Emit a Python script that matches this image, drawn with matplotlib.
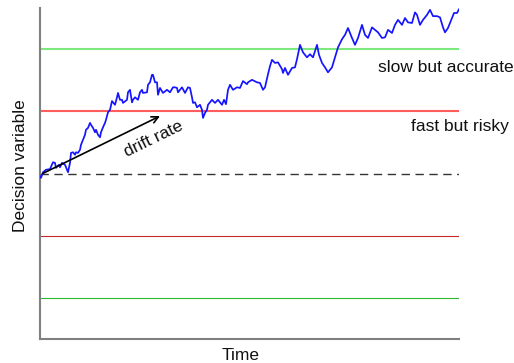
import matplotlib
matplotlib.use("Agg")
import matplotlib.pyplot as plt

plt.rcParams['font.family'] = ['Liberation Sans', 'DejaVu Sans']

# Sampled accumulator trajectory (time steps, decision variable)
time = [
    0, 1, 3, 6, 10, 13, 15, 16, 19, 20,
    22, 25, 26, 28, 30, 31, 33, 35, 36, 38,
    40, 41, 43, 45, 46, 48, 50, 51, 53, 55,
    56, 58, 60, 61, 63, 65, 66, 68, 70, 72,
    75, 77, 78, 80, 82, 83, 87, 88, 90, 92,
    93, 95, 98, 100, 102, 103, 107, 108, 110, 112,
    113, 115, 117, 118, 120, 123, 127, 130, 133, 135,
    137, 138, 142, 145, 148, 150, 152, 153, 155, 157,
    160, 162, 163, 165, 167, 168, 172, 175, 178, 182,
    184, 186, 188, 190, 193, 197, 200, 203, 207, 208,
    212, 217, 220, 223, 225, 228, 230, 232, 235, 238,
    242, 243, 245, 248, 252, 255, 257, 260, 263, 267,
    270, 273, 277, 279, 282, 285, 288, 292, 295, 298,
    302, 305, 308, 312, 315, 318, 322, 325, 328, 332,
    335, 338, 342, 345, 348, 352, 355, 358, 362, 365,
    368, 372, 375, 377, 380, 383, 387, 390, 393, 397,
    400, 403, 405, 408, 412, 414, 417, 419,
]
decision = [
    -0.04, -0.07, 0.02, 0.06, 0.07, 0.18, 0.17, 0.09, 0.14, 0.10,
    0.17, 0.14, 0.10, 0.02, 0.17, 0.33, 0.34, 0.30, 0.34, 0.33,
    0.38, 0.46, 0.54, 0.62, 0.70, 0.73, 0.81, 0.78, 0.73, 0.66,
    0.70, 0.62, 0.58, 0.66, 0.74, 0.81, 0.86, 0.98, 1.02, 1.16,
    1.10, 1.22, 1.29, 1.18, 1.18, 1.13, 1.18, 1.30, 1.34, 1.14,
    1.18, 1.22, 1.18, 1.30, 1.34, 1.29, 1.30, 1.42, 1.46, 1.58,
    1.58, 1.46, 1.46, 1.26, 1.37, 1.29, 1.34, 1.30, 1.38, 1.38,
    1.37, 1.30, 1.38, 1.29, 1.38, 1.37, 1.22, 1.13, 1.14, 1.06,
    1.10, 1.02, 0.89, 0.97, 1.02, 1.10, 1.18, 1.13, 1.18, 1.10,
    1.18, 1.11, 1.34, 1.42, 1.34, 1.38, 1.37, 1.48, 1.43, 1.46,
    1.50, 1.46, 1.45, 1.34, 1.38, 1.59, 1.72, 1.82, 1.77, 1.78,
    1.67, 1.61, 1.69, 1.58, 1.69, 1.70, 1.83, 2.06, 1.94, 1.86,
    1.91, 1.86, 2.06, 1.90, 1.77, 1.70, 1.62, 1.70, 1.86, 2.02,
    2.15, 2.22, 2.33, 2.17, 2.06, 2.17, 2.38, 2.22, 2.17, 2.34,
    2.30, 2.26, 2.17, 2.18, 2.30, 2.25, 2.38, 2.46, 2.38, 2.49,
    2.42, 2.41, 2.58, 2.54, 2.38, 2.46, 2.54, 2.62, 2.52, 2.52,
    2.50, 2.34, 2.26, 2.33, 2.49, 2.57, 2.57, 2.63,
]

# Decision thresholds
fast_bound = 1.0
slow_bound = 2.0
start_point = 0.0
t_max = 419
y_lim = 2.65

fig = plt.figure(figsize=(5.14, 3.63), dpi=100)
ax = fig.add_axes([40 / 514, 24 / 363, 419 / 514, 331 / 363])

ax.axhline(slow_bound, color='#7de87d', lw=1.5, zorder=1)
ax.axhline(fast_bound, color='#ff5c5c', lw=1.5, zorder=1)
ax.axhline(start_point, color='#333333', lw=1.0, ls=(0, (6, 4)), zorder=1)
ax.axhline(-fast_bound, color='#c42a2a', lw=0.8, zorder=1)
ax.axhline(-slow_bound, color='#2eb82e', lw=0.8, zorder=1)

ax.plot(time, decision, color='#1515ff', lw=1.25, zorder=3)

ax.annotate('', xy=(120, 0.92), xytext=(2.7, 0.0),
            arrowprops=dict(arrowstyle='->', color='black', lw=1.2,
                            shrinkA=0, shrinkB=0, mutation_scale=12),
            zorder=4)
ax.text(113.7, 0.56, 'drift rate', rotation=26, ha='center', va='center',
        fontsize=12.5, color='#111111')

ax.text(338, 1.625, 'slow but accurate', ha='left', va='baseline',
        fontsize=12.5, color='#111111', clip_on=False)
ax.text(370.7, 0.68, 'fast but risky', ha='left', va='baseline',
        fontsize=12.5, color='#111111', clip_on=False)

ax.set_xlim(0, t_max)
ax.set_ylim(-y_lim, y_lim)
ax.set_xticks([])
ax.set_yticks([])
for side in ('top', 'right'):
    ax.spines[side].set_visible(False)
for side in ('left', 'bottom'):
    ax.spines[side].set_color('#808080')
    ax.spines[side].set_linewidth(1.5)

fig.text(240.5 / 514, 1 - 355 / 363, 'Time', ha='center', va='center',
         fontsize=12.5, color='#111111')
fig.text(21 / 514, 1 - 166 / 363, 'Decision variable', ha='center',
         va='center', rotation=90, fontsize=12.5, color='#111111')

fig.savefig('out.png', dpi=100)
